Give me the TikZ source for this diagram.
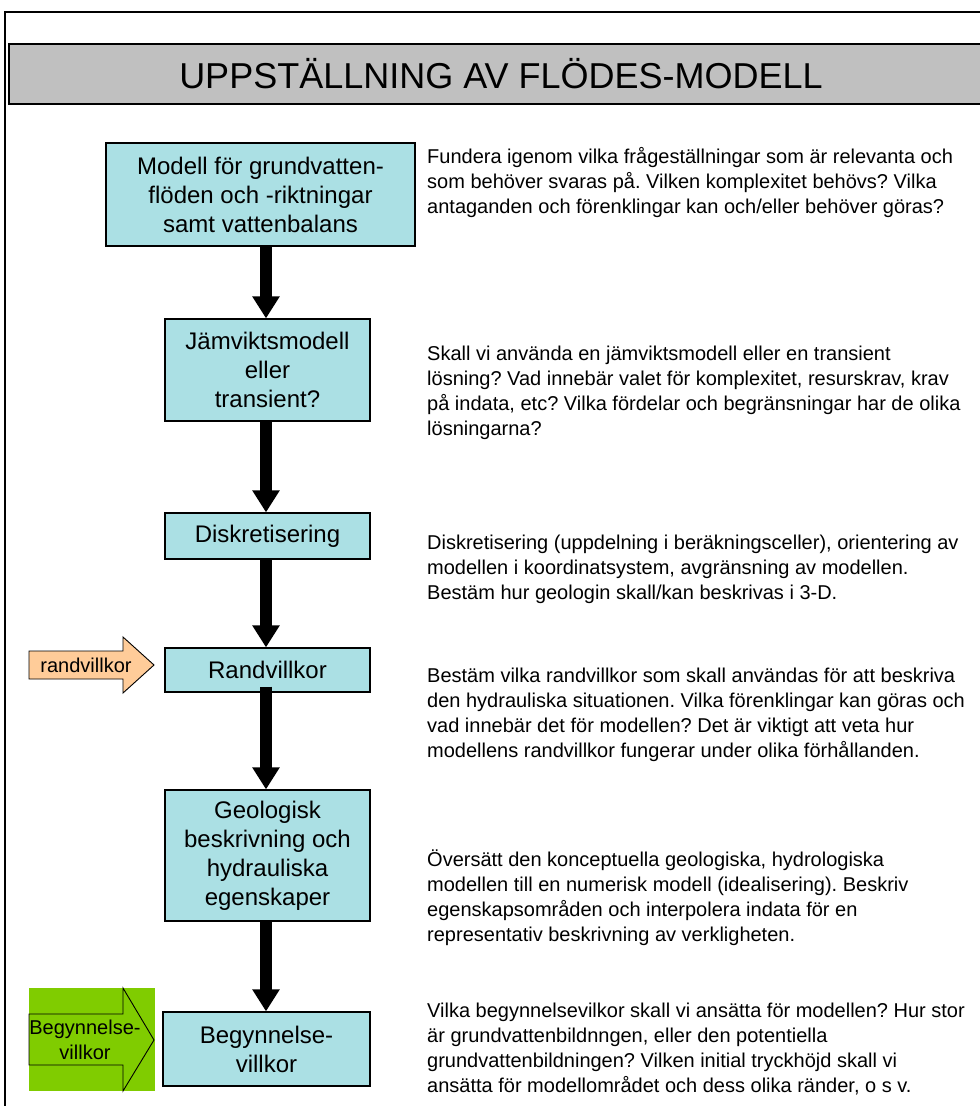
\documentclass[tikz,border=0pt]{standalone}
\usepackage{fontspec}
\setmainfont{Liberation Sans}
\usetikzlibrary{arrows.meta}
\definecolor{boxblue}{RGB}{171,224,228}
\definecolor{titlegray}{RGB}{192,192,192}
\definecolor{peach}{RGB}{255,204,153}
\definecolor{leaf}{RGB}{128,204,0}
\frenchspacing

\begin{document}
\begin{tikzpicture}[x=1pt,y=-1pt,
  stage/.style={draw=black, line width=1.2pt, fill=boxblue, align=center,
    font=\fontsize{24}{29}\selectfont, inner sep=0pt},
  note/.style={anchor=west, align=left, font=\fontsize{20}{25}\selectfont, inner sep=0pt},
  flow/.style={line width=12pt, -{Triangle[length=22pt,width=26pt]}},
  sidearrow/.style={draw=black, line width=0.9pt},
  sidetext/.style={align=center, font=\fontsize{20}{25}\selectfont, inner sep=0pt},
]
\useasboundingbox (0,0) rectangle (980,1106);
\clip (0,0) rectangle (980,1106);
\fill[white] (0,0) rectangle (980,1106);

% outer frame and heading bar
\draw[line width=1.3pt] (5,12) rectangle (1000,1130);
\node[draw=black, line width=1.3pt, fill=titlegray, minimum width=984pt, minimum height=60pt,
  inner sep=0pt, font=\fontsize{36}{40}\selectfont] (title) at (501,74)
  {UPPSTÄLLNING AV FLÖDES-MODELL};

% process stages
\node[stage, minimum width=309pt, minimum height=103pt] (b1) at (260.5,194.5)
  {Modell för grundvatten-\\flöden och -riktningar\\samt vattenbalans};
\node[stage, minimum width=205pt, minimum height=102pt] (b2) at (267.5,370)
  {Jämviktsmodell\\eller\\transient?};
\node[stage, minimum width=205pt, minimum height=46pt] (b3) at (267.5,536)
  {Diskretisering};
\node[stage, minimum width=205pt, minimum height=44pt] (b4) at (267.5,670)
  {Randvillkor};
\node[stage, minimum width=205pt, minimum height=131pt] (b5) at (267.5,855.5)
  {Geologisk\\beskrivning och\\hydrauliska\\egenskaper};
\node[stage, minimum width=207pt, minimum height=74pt] (b6) at (266.5,1049)
  {Begynnelse-\\villkor};

% flow arrows between stages
\coordinate (ax) at (266,0);
\draw[flow] (b1.south -| ax) -- (b2.north -| ax);
\draw[flow] (b2.south -| ax) -- (b3.north -| ax);
\draw[flow] (b3.south -| ax) -- (b4.north -| ax);
\draw[flow] ([yshift=6pt]b4.south -| ax) -- (b5.north -| ax);
\draw[flow] (b5.south -| ax) -- (b6.north -| ax);

% input arrow: boundary conditions
\filldraw[sidearrow, fill=peach] (29,651) -- (123,651) -- (123,637) -- (154,665)
  -- (123,693) -- (123,679) -- (29,679) -- cycle;
\node[sidetext] (rv) at (86,665) {randvillkor};

% input arrow: initial conditions
\fill[leaf] (29,988) rectangle (155,1091);
\draw[sidearrow] (29,1014) -- (123,1014) -- (123,988) -- (154,1040)
  -- (123,1091) -- (123,1065) -- (29,1065) -- cycle;
\node[sidetext] (bv) at (85,1040) {Begynnelse-\\villkor};

% explanatory notes
\node[note] (t1) at (427,183) {Fundera igenom vilka frågeställningar som är relevanta och\\
som behöver svaras på. Vilken komplexitet behövs? Vilka\\
antaganden och förenklingar kan och/eller behöver göras?};
\node[note] (t2) at (427,393) {Skall vi använda en jämviktsmodell eller en transient\\
lösning? Vad innebär valet för komplexitet, resurskrav, krav\\
på indata, etc? Vilka fördelar och begränsningar har de olika\\
lösningarna?};
\node[note] (t3) at (427,569) {Diskretisering (uppdelning i beräkningsceller), orientering av\\
modellen i koordinatsystem, avgränsning av modellen.\\
Bestäm hur geologin skall/kan beskrivas i 3-D.};
\node[note] (t4) at (427,715) {Bestäm vilka randvillkor som skall användas för att beskriva\\
den hydrauliska situationen. Vilka förenklingar kan göras och\\
vad innebär det för modellen? Det är viktigt att veta hur\\
modellens randvillkor fungerar under olika förhållanden.};
\node[note] (t5) at (427,898) {Översätt den konceptuella geologiska, hydrologiska\\
modellen till en numerisk modell (idealisering). Beskriv\\
egenskapsområden och interpolera indata för en\\
representativ beskrivning av verkligheten.};
\node[note] (t6) at (427,1049) {Vilka begynnelsevilkor skall vi ansätta för modellen? Hur stor\\
är grundvattenbildnngen, eller den potentiella\\
grundvattenbildningen? Vilken initial tryckhöjd skall vi\\
ansätta för modellområdet och dess olika ränder, o s v.};
\end{tikzpicture}
\end{document}
